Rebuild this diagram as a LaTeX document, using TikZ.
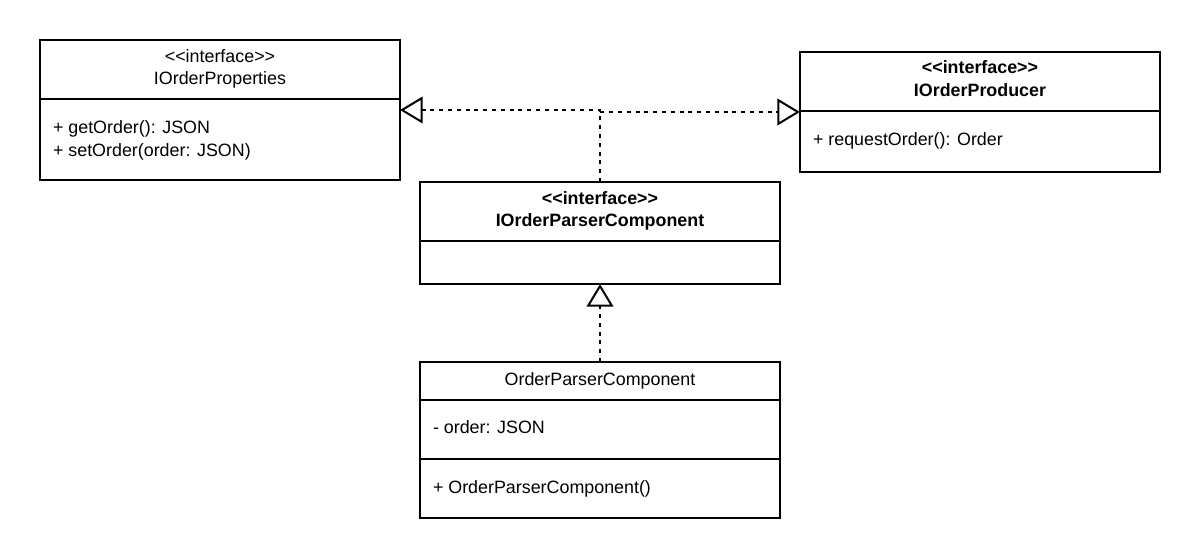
\documentclass[tikz,border=0pt]{standalone}
\usepackage{fontspec}
\setmainfont{Liberation Sans}
\usetikzlibrary{arrows.meta}
\begin{document}
\begin{tikzpicture}[x=0.75pt,y=-0.75pt,
  line width=1.5pt,
  classbox/.style={draw=black, fill=white, rectangle, inner sep=0pt, outer sep=0pt, minimum width=270pt},
  txt/.style={inner sep=0pt, font=\fontsize{13.4}{16}\selectfont},
  btxt/.style={txt, font=\fontsize{13.4}{16}\selectfont\bfseries},
  realize/.style={draw=black, dash pattern=on 3pt off 3.6pt,
    -{Triangle[open, length=17pt, width=20pt, fill=white]}}
]
\useasboundingbox (0,0) rectangle (1200,558);

% IOrderProperties
\node[classbox, minimum height=105pt] (props) at (220,110) {};
\draw (props.west |- 0,99) -- (props.east |- 0,99);
\node[txt, anchor=base] (propsS) at (220,62) {{<}{<}interface{>}{>}};
\node[txt, anchor=base] (propsN) at (220,84) {IOrderProperties};
\node[txt, anchor=base west] (propsM1) at (52,133) {+ getOrder(): JSON};
\node[txt, anchor=base west] (propsM2) at (52,156) {+ setOrder(order: JSON)};

% IOrderProducer
\node[classbox, minimum height=90pt] (prod) at (980,112) {};
\draw (prod.west |- 0,111) -- (prod.east |- 0,111);
\node[btxt, anchor=base] (prodS) at (980,73) {{<}{<}interface{>}{>}};
\node[btxt, anchor=base] (prodN) at (980,96) {IOrderProducer};
\node[txt, anchor=base west] (prodM1) at (812,145) {+ requestOrder(): Order};

% IOrderParserComponent
\node[classbox, minimum height=76.5pt] (parser) at (600,233) {};
\draw (parser.west |- 0,241) -- (parser.east |- 0,241);
\node[btxt, anchor=base] (parserS) at (600,204) {{<}{<}interface{>}{>}};
\node[btxt, anchor=base] (parserN) at (600,226) {IOrderParserComponent};

% OrderParserComponent
\node[classbox, minimum height=117pt] (impl) at (600,440) {};
\draw (impl.west |- 0,400) -- (impl.east |- 0,400);
\draw (impl.west |- 0,459) -- (impl.east |- 0,459);
\node[txt, anchor=base] (implN) at (600,385) {OrderParserComponent};
\node[txt, anchor=base west] (implA1) at (432,433) {- order: JSON};
\node[txt, anchor=base west] (implM1) at (432,493) {+ OrderParserComponent()};

% realization edges
\draw[realize] (parser.north) |- (props.east);
\draw[realize] (parser.north) |- (prod.west);
\draw[realize] (impl.north) -- (parser.south);
\end{tikzpicture}
\end{document}
